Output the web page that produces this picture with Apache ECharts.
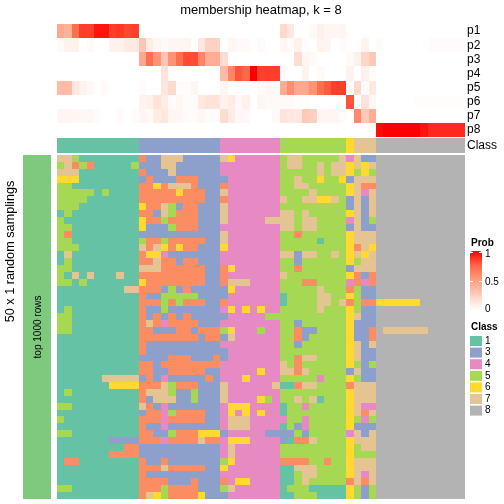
<!DOCTYPE html>
<html><head><meta charset="utf-8">
<style>html,body{margin:0;padding:0;background:#fff}#c{width:504px;height:504px}</style>
<script src="https://cdn.jsdelivr.net/npm/echarts@6/dist/echarts.min.js"></script>
</head><body><div id="c"></div>
<script>
const probLabels = ['p1','p2','p3','p4','p5','p6','p7','p8'];
const p1 = [.45,.4,.72,.85,.85,.95,.95,.85,.87,.83,.85, 0,0,0,0,0,0,0,0,0,0,0, 0,0,0,0,0,0,0,0, .2,.12,0,0,.03,.08,.05,.05,.05, 0, 0,0,0, 0,0,0,0,0,0,0,0,0,0,0,0];
const p2 = [.03,.07,.07,0,.03,0,0,.07,.07,.11,.11, .3,.1,.05,.02,.05,.05,.05,0,.13,.24,.24, 0,.05,.03,.03,0,.03,0,0, .05,.02,.07,.02,0,.06,.05,0,.02, 0, 0,.06,0, .02,0,0,0,0,0,0,.02,.02,.02,.02,.02];
const p3 = [0,0,0,0,0,0,0,0,0,0,0, .45,.72,.55,.3,.55,.72,.82,.82,.62,.42,.42, .18,0,0,0,0,0,0,0, 0,0,.18,.05,.03,0,0,0,0, .03, .07,.22,.28, 0,0,0,0,0,0,0,0,0,0,0,0];
const p4 = [0,0,0,0,0,0,0,0,0,0,0, 0,0,0,.15,0,0,0,0,0,0,0, .35,.62,.8,.75,1,.85,.85,.85, .02,0,0,.06,0,.03,0,0,0, .07, 0,.08,.02, 0,0,0,0,0,0,0,0,0,0,0,0];
const p5 = [.35,.35,.12,.06,.03,0,.03,0,0,0,0, .02,0,0,.13,.2,.02,.02,.05,0,0,0, .05,0,0,0,0,.02,.04,.02, .42,.58,.45,.45,.55,.72,.78,.85,.85, 0, .2,.02,.12, 0,0,0,0,0,0,0,0,0,0,0,0];
const p6 = [0,0,0,0,0,0,0,0,0,0,0, .06,.08,.15,.1,.02,.05,.02,.02,.12,.15,.15, .07,.1,.03,.08,0,.05,.03,.03, .03,.03,.01,.01,0,0,0,0,0, .8, 0,.15,.04, 0,0,0,0,0,.01,.01,.01,.01,.01,.01,.01];
const p7 = [.05,.05,.04,.04,.04,.02,0,0,.02,0,.02, .05,.03,.1,.13,.05,.04,.02,.02,.04,.02,.02, .18,.1,.04,.04,0,0,0,.03, .15,.12,.12,.28,.25,.05,.05,.05,.02, 0, .6,.28,.42, 0,0,0,0,0,0,0,0,0,0,0,0];
const p8 = [0,0,0,0,0,0,0,0,0,0,0, 0,0,0,0,0,0,0,0,0,0,0, 0,0,0,0,0,0,0,0, 0,0,0,0,0,0,0,0,0, 0, 0,0,0, .97,1,1,1,1,1,.95,.9,.9,.9,.9,.9];
const probRows = [p1,p2,p3,p4,p5,p6,p7,p8];
const columnClass = '1111111111133333333333444444445555555556777888888888888';
const classRows = [
'77511111111'+'23377733333'+'76444444'+'577555557'+'4'+'733'+'888888888888',
'57252111115'+'33377333333'+'44444444'+'577557577'+'6'+'767'+'888888888888',
'77711111111'+'23337333333'+'44444444'+'555557577'+'6'+'565'+'888888888888',
'66611111111'+'32333222333'+'34444444'+'557556556'+'3'+'777'+'888888888888',
'55111111111'+'22627772333'+'24444444'+'557755555'+'6'+'722'+'888888888888',
'55555151111'+'22222622233'+'74444444'+'555575555'+'6'+'747'+'888888888888',
'55551111111'+'22222222233'+'24444444'+'755776675'+'3'+'737'+'888888888888',
'55511111111'+'62275322333'+'74444444'+'555555555'+'3'+'737'+'888888888888',
'15111111111'+'22375222333'+'74444444'+'775755555'+'6'+'737'+'888888888888',
'51111111111'+'62252222333'+'74444477'+'775775555'+'4'+'735'+'888888888888',
'55111111111'+'63335222333'+'44444444'+'775775555'+'3'+'733'+'888888888888',
'52111111111'+'33333333333'+'74444444'+'552555555'+'6'+'777'+'888888888888',
'55111111111'+'52252222233'+'74444444'+'555551555'+'6'+'777'+'888888888888',
'55511111111'+'72762622333'+'64444444'+'555555555'+'6'+'276'+'888888888888',
'17111111111'+'26643333333'+'44444444'+'773775575'+'6'+'767'+'888888888888',
'15111111111'+'22722322333'+'44444444'+'553555555'+'6'+'577'+'888888888888',
'55111111111'+'77722222233'+'26444444'+'552555555'+'3'+'777'+'888888888888',
'51717111711'+'22222222233'+'24444444'+'755555555'+'6'+'232'+'888888888888',
'55151111111'+'62222222233'+'27774444'+'555225555'+'4'+'242'+'888888888888',
'11111111177'+'22235323333'+'36444444'+'555557555'+'2'+'533'+'888888888888',
'11111111111'+'23355555333'+'34444444'+'155557755'+'6'+'533'+'888888888888',
'11111111111'+'22252522233'+'24444444'+'155557757'+'2'+'522'+'666666888888',
'15111111111'+'23353333333'+'46464644'+'555557555'+'6'+'533'+'888888888888',
'55111111111'+'23232323333'+'34444455'+'555555555'+'6'+'733'+'888888888888',
'55111111111'+'27242222333'+'44444444'+'553555555'+'6'+'333'+'888888888888',
'55111111111'+'22333223222'+'56444544'+'552335555'+'6'+'332'+'877777788888',
'11111111111'+'22222222322'+'37444444'+'552355555'+'6'+'332'+'888888888888',
'11111111111'+'23333333333'+'44444444'+'553555555'+'6'+'737'+'888888888888',
'11111111111'+'23333333333'+'34444444'+'555555555'+'6'+'733'+'888888888888',
'11111111111'+'33332223332'+'34444444'+'552775555'+'6'+'733'+'888888888888',
'11111111111'+'22322222222'+'44444444'+'752555555'+'6'+'535'+'888888888888',
'11111111111'+'22332222233'+'44444644'+'772755555'+'3'+'733'+'888888888888',
'11111177777'+'32343333323'+'44464444'+'555554555'+'6'+'533'+'888888888888',
'11111116666'+'22275222333'+'74444447'+'112775555'+'2'+'777'+'888888888888',
'15111111111'+'27775335333'+'74444444'+'555555555'+'6'+'777'+'888888888888',
'11111111111'+'23777335333'+'74444654'+'557571555'+'6'+'777'+'888888888888',
'55111111111'+'72343333333'+'46664444'+'155455555'+'6'+'744'+'888888888888',
'11111111111'+'32245222233'+'46464644'+'155555555'+'6'+'727'+'888888888888',
'51111111111'+'22242222233'+'47774444'+'455455555'+'6'+'545'+'888888888888',
'11111111111'+'23343333333'+'47774444'+'153455555'+'6'+'333'+'888888888888',
'55111111111'+'22335222666'+'34444433'+'335355555'+'4'+'737'+'888888888888',
'11111113333'+'22242222722'+'46664444'+'312275555'+'6'+'777'+'888888888888',
'11111111122'+'33333333333'+'47444444'+'555555555'+'6'+'577'+'888888888888',
'11111112222'+'33333333333'+'47444444'+'555555555'+'6'+'555'+'888888888888',
'12211111111'+'23323333333'+'56444444'+'222255255'+'6'+'777'+'888888888888',
'11111111111'+'22272222233'+'64444444'+'117775555'+'6'+'777'+'888888888888',
'11111111111'+'23333333333'+'44444444'+'115775555'+'6'+'747'+'888888888888',
'11111111111'+'22223332333'+'24664444'+'115755555'+'2'+'727'+'888888888888',
'55111111111'+'22252222333'+'57444444'+'155511111'+'6'+'535'+'888888888888',
'11111111111'+'27652222633'+'34444444'+'115551111'+'6'+'535'+'888888888888'
];
const legendClasses = [1,3,4,5,6,7,8];
const classColors = {1:'#66C2A5',2:'#FC8D62',3:'#8DA0CB',4:'#E78AC3',5:'#A6D854',6:'#FFD92F',7:'#E5C494',8:'#B3B3B3'};
const probStops = ['#FFFFFF','#FFCFBF','#FF9E81','#FF6947','#FF0000'];
const probTicks = ['1','0.5','0'];

const colCats = columnClass.split('').map((_, i) => 'c' + i);
const rowCats = classRows.map((_, i) => 'r' + i);
const font = '"Liberation Sans", Arial, sans-serif';

function cells(nRows, nCols, fn) {
  const out = [];
  for (let r = 0; r < nRows; r++) for (let c = 0; c < nCols; c++) out.push([c, r, fn(r, c)]);
  return out;
}
// Cell drawn from the library's own scale, snapped to whole pixels so that neighbours meet without seams.
function cellRenderer(colorOf) {
  return (params, api) => {
    const p = api.coord([api.value(0), api.value(1)]);
    const s = api.size([1, 1]);
    const x0 = Math.round(p[0] - s[0] / 2), x1 = Math.round(p[0] + s[0] / 2);
    const y0 = Math.round(p[1] - s[1] / 2), y1 = Math.round(p[1] + s[1] / 2);
    return {type:'rect', shape:{x:x0, y:y0, width:x1 - x0, height:y1 - y0},
      style:{fill:colorOf(api), stroke:null, lineWidth:0}};
  };
}
const visualFill = api => api.visual('color');
const classFill = api => classColors[api.value(2)];
const base = {type:'custom', animation:false, progressive:0, silent:true, encode:{x:0, y:1}};
const hiddenX = (gridIndex, data) => ({type:'category', gridIndex, data, show:false});
const option = {
  backgroundColor:'#fff',
  animation:false,
  tooltip:{show:false},
  title:{text:'membership heatmap, k = 8', left:261, top:4, textAlign:'center',
    textStyle:{fontFamily:font, fontSize:13, fontWeight:'normal', color:'#000'}, padding:0},
  grid:[
    {left:57, width:408, top:24, height:113},
    {left:57, width:408, top:138, height:15},
    {left:57, width:408, top:155, height:344},
    {left:23, width:28, top:155, height:344}
  ],
  xAxis:[hiddenX(0,colCats), hiddenX(1,colCats), hiddenX(2,colCats), hiddenX(3,['s'])],
  yAxis:[
    {type:'category', gridIndex:0, data:probLabels, inverse:true, position:'right',
      axisLine:{show:false}, axisTick:{show:false}, splitLine:{show:false},
      axisLabel:{margin:2, fontFamily:font, fontSize:12, color:'#000', interval:0}},
    {type:'category', gridIndex:1, data:['Class'], position:'right',
      axisLine:{show:false}, axisTick:{show:false},
      axisLabel:{margin:2, fontFamily:font, fontSize:12, color:'#000'}},
    {type:'category', gridIndex:2, data:rowCats, inverse:true, show:false},
    {type:'category', gridIndex:3, data:['s'], show:false}
  ],
  visualMap:[
    {type:'continuous', seriesIndex:0, dimension:2, min:0, max:1, inRange:{color:probStops}, left:470, top:251,
     itemWidth:12, itemHeight:59, text:['',''], calculable:false, padding:0, hoverLink:false, textGap:0},
    {type:'piecewise', seriesIndex:1, dimension:2, left:470, top:336, padding:0, itemWidth:12, itemHeight:10, itemGap:1.6,
     itemSymbol:'rect', textGap:3, hoverLink:false, selectedMode:false, align:'left', inverse:true,
     textStyle:{fontFamily:font, fontSize:10, color:'#000'},
     pieces:legendClasses.map(v => ({value:v, label:String(v), color:classColors[v]}))}
  ],
  series:[
    Object.assign({}, base, {xAxisIndex:0, yAxisIndex:0, renderItem:cellRenderer(visualFill),
      data:cells(8, 55, (r,c) => probRows[r][c])}),
    Object.assign({}, base, {xAxisIndex:1, yAxisIndex:1, renderItem:cellRenderer(visualFill),
      data:cells(1, 55, (r,c) => +columnClass[c])}),
    Object.assign({}, base, {xAxisIndex:2, yAxisIndex:2, renderItem:cellRenderer(classFill),
      data:cells(50, 55, (r,c) => +classRows[r][c])}),
    Object.assign({}, base, {xAxisIndex:3, yAxisIndex:3, renderItem:cellRenderer(() => '#7FC97F'),
      data:[[0,0,1]]})
  ],
  graphic:[
    {type:'text', z:100, x:10, y:251.5, rotation:Math.PI/2, style:{text:'50 x 1 random samplings', font:'12.7px '+font, fill:'#000', align:'center', verticalAlign:'middle'}},
    {type:'text', z:100, x:38, y:327, rotation:Math.PI/2, style:{text:'top 1000 rows', font:'10px '+font, fill:'#000', align:'center', verticalAlign:'middle'}},
    {type:'text', z:100, x:471, y:243, style:{text:'Prob', font:'bold 10px '+font, fill:'#000', verticalAlign:'middle'}},
    {type:'text', z:100, x:471, y:327, style:{text:'Class', font:'bold 10px '+font, fill:'#000', verticalAlign:'middle'}},
    {type:'text', z:100, x:485, y:254, style:{text:probTicks[0], font:'10px '+font, fill:'#000', verticalAlign:'middle'}},
    {type:'text', z:100, x:485, y:282, style:{text:probTicks[1], font:'10px '+font, fill:'#000', verticalAlign:'middle'}},
    {type:'text', z:100, x:485, y:309, style:{text:probTicks[2], font:'10px '+font, fill:'#000', verticalAlign:'middle'}},
    {type:'line', z:100, shape:{x1:470,y1:252.5,x2:473,y2:252.5}, style:{stroke:'#fff',lineWidth:1}},
    {type:'line', z:100, shape:{x1:479,y1:252.5,x2:482,y2:252.5}, style:{stroke:'#fff',lineWidth:1}},
    {type:'line', z:100, shape:{x1:470,y1:281.5,x2:473,y2:281.5}, style:{stroke:'#fff',lineWidth:1}},
    {type:'line', z:100, shape:{x1:479,y1:281.5,x2:482,y2:281.5}, style:{stroke:'#fff',lineWidth:1}}
  ]
};
echarts.init(document.getElementById('c'), null, {renderer:'canvas'}).setOption(option);
</script></body></html>
